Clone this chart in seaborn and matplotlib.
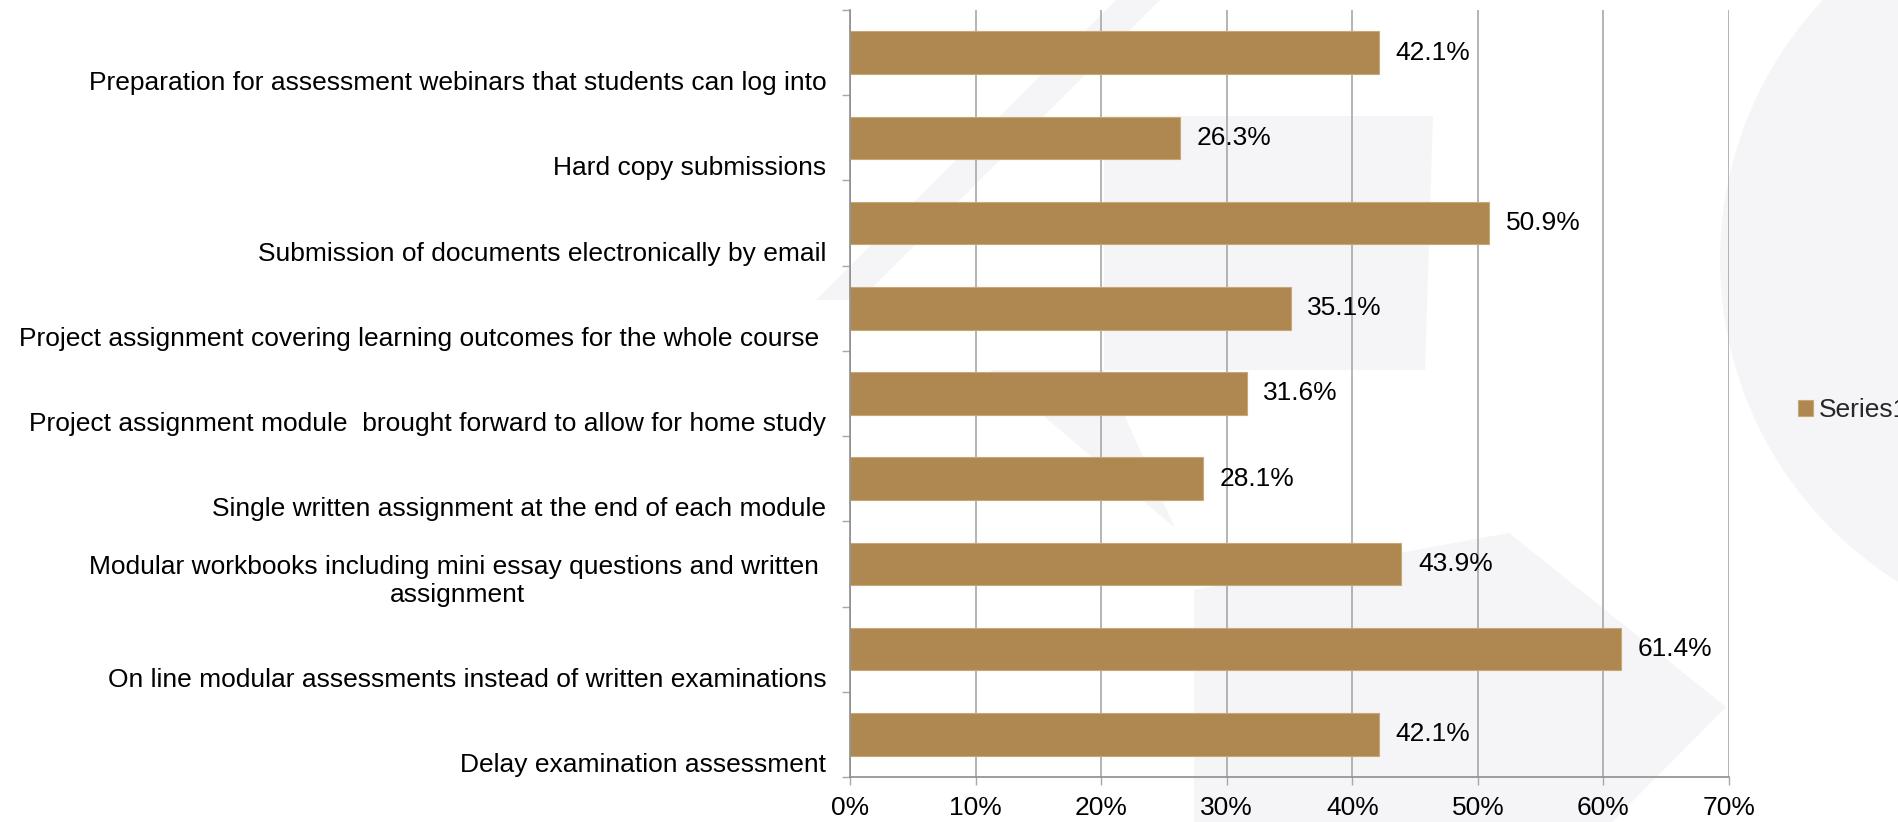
import matplotlib
matplotlib.use("Agg")
import matplotlib.pyplot as plt
from matplotlib.patches import Polygon, Circle
from matplotlib.ticker import FuncFormatter
import numpy as np
import pandas as pd
import seaborn as sns

# data (percent of respondents)
categories = [
    'Preparation for assessment webinars that students can log into',
    'Hard copy submissions',
    'Submission of documents electronically by email',
    'Project assignment covering learning outcomes for the whole course ',
    'Project assignment module  brought forward to allow for home study',
    'Single written assignment at the end of each module',
    'Modular workbooks including mini essay questions and written \nassignment',
    'On line modular assessments instead of written examinations',
    'Delay examination assessment',
]
values = [42.1, 26.3, 50.9, 35.1, 31.6, 28.1, 43.9, 61.4, 42.1]
series_name = 'Series1'
x_ticks = [0, 10, 20, 30, 40, 50, 60, 70]

BAR = '#AE8850'
GRID = '#A8A8A8'
WM = '#F5F4F7'
W, H = 1899, 822

sns.set_style('white')
plt.rcParams['font.family'] = ['Liberation Sans', 'DejaVu Sans']
FS = 19

fig = plt.figure(figsize=(W / 100, H / 100), dpi=100, facecolor='white')

# faint background watermark (pixel coords, y from top), drawn behind the axes
def px(pts):
    return [(x / W, 1 - y / H) for x, y in pts]

wm_shapes = [
    [(1116, 0), (1160, 0), (860, 300), (816, 300)],
    [(1104, 116), (1433, 116), (1425, 370), (1104, 370)],
    [(990, 370), (1104, 370), (1175, 528)],
    [(1194, 590), (1509, 533), (1726, 707), (1612, 822), (1194, 822)],
]
for s in wm_shapes:
    fig.patches.append(Polygon(px(s), closed=True, transform=fig.transFigure,
                               facecolor=WM, edgecolor='none', zorder=-1))
fig.patches.append(Circle((2100 / 100, (H - 260) / 100), 380 / 100,
                          transform=fig.dpi_scale_trans,
                          facecolor=WM, edgecolor='none', zorder=-1))

ax = fig.add_axes([850 / W, 1 - 777 / H, (1729 - 850) / W, (777 - 10) / H])
ax.patch.set_alpha(0)

df = pd.DataFrame({'category': categories, 'value': values})
sns.barplot(data=df, x='value', y='category', orient='h', color=BAR, width=0.5,
            saturation=1, edgecolor='#C9A877', linewidth=0.8, label=series_name, ax=ax)

ax.set_xlim(0, 70)
ax.set_ylim(len(categories) - 0.5, -0.5)
ax.set_xticks(x_ticks)
ax.xaxis.set_major_formatter(FuncFormatter(lambda v, p: f'{v:.0f}%'))
ax.grid(axis='x', color=GRID, linewidth=1.2)
ax.grid(axis='y', visible=False)
ax.set_axisbelow(True)

# category labels sit on the slot boundaries, bottom aligned
ax.set_yticks(np.arange(-0.5, len(categories)), labels=[''] + categories)
for t in ax.get_yticklabels():
    t.set_verticalalignment('bottom')
    t.set_multialignment('center')

ax.tick_params(axis='y', direction='out', length=5.5, width=1, color=GRID,
               pad=11.5, labelsize=FS, labelcolor='black', left=True)
ax.tick_params(axis='x', direction='out', length=5.8, width=1, color=GRID,
               pad=8, labelsize=FS, labelcolor='black', bottom=True)
ax.set_xlabel('')
ax.set_ylabel('')

for side in ['top', 'right']:
    ax.spines[side].set_visible(False)
for side in ['left', 'bottom']:
    ax.spines[side].set_color('#8E8E8E')
    ax.spines[side].set_linewidth(1.2)

ax.bar_label(ax.containers[0], fmt='%.1f%%', padding=12, fontsize=FS, color='black')

ax.legend(loc='center left', bbox_to_anchor=(1798 / W, 1 - 410 / H),
          bbox_transform=fig.transFigure, frameon=False, fontsize=FS,
          handlelength=0.55, handleheight=0.55, handletextpad=0.25,
          borderpad=0, borderaxespad=0)

fig.savefig('out.png', dpi=100, facecolor='white')
